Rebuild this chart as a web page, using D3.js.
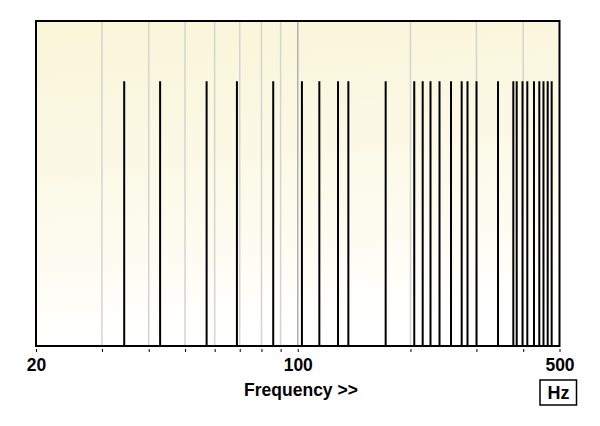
<!DOCTYPE html>
<html><head><meta charset="utf-8">
<script src="https://cdn.jsdelivr.net/npm/d3@7"></script>
<style>
html,body{margin:0;padding:0;background:#fff;}
svg{display:block;}
text{font-family:Arial,"Liberation Sans",sans-serif;font-weight:bold;fill:#000;}
</style></head>
<body>
<script>
// Partial frequencies (Hz)
const frequencies = [34.4, 42.9, 57.1, 68.8, 86.0, 102.6, 114.2, 128.1, 136.5, 171.7,
  204.7, 215.6, 226.2, 239.1, 256.6, 274.0, 284.0, 300.2, 342.6, 376.4,
  384.3, 398.3, 410.2, 427.4, 441.6, 453.1, 465.0, 476.5];
// Relative amplitude of each partial
const amplitudes = frequencies.map(() => 0.815);
const gridValues = [30, 40, 50, 60, 70, 80, 90, 100, 200, 300, 400];
const tickValues = [20, 30, 40, 50, 60, 70, 80, 90, 100, 200, 300, 400, 500];
const tickLabels = {20: "20", 100: "100", 500: "500"};
const xDomain = [20, 500];
const yDomain = [0, 1];

const W = 600, H = 426;
const m = {left: 36, right: 40.5, top: 21, bottom: 80};
const svg = d3.select("body").append("svg").attr("width", W).attr("height", H);

const x = d3.scaleLog().domain(xDomain).range([m.left, W - m.right]);
const y = d3.scaleLinear().domain(yDomain).range([H - m.bottom, m.top]);

const defs = svg.append("defs");
const grad = defs.append("linearGradient").attr("id", "bg")
  .attr("x1", 0).attr("y1", 0).attr("x2", 0.15).attr("y2", 1);
grad.append("stop").attr("offset", "0%").attr("stop-color", "#f9f5d8");
grad.append("stop").attr("offset", "55%").attr("stop-color", "#fcfae9");
grad.append("stop").attr("offset", "100%").attr("stop-color", "#ffffff");

const x0 = x.range()[0], x1 = x.range()[1], yT = y.range()[1], yB = y.range()[0];

svg.append("rect").attr("x", x0).attr("y", yT).attr("width", x1 - x0).attr("height", yB - yT)
  .attr("fill", "url(#bg)");

// grid
svg.append("g").selectAll("line").data(gridValues).join("line")
  .attr("x1", d => x(d)).attr("x2", d => x(d))
  .attr("y1", yT).attr("y2", yB)
  .attr("stroke", d => d === 100 ? "#b0b0b0" : "#d4d4d0")
  .attr("stroke-width", 1.5);

// partial lines
svg.append("g").selectAll("line").data(frequencies).join("line")
  .attr("x1", d => x(d)).attr("x2", d => x(d))
  .attr("y1", (d, i) => y(amplitudes[i])).attr("y2", yB)
  .attr("stroke", "#000").attr("stroke-width", 2);

// frame
svg.append("rect").attr("x", x0).attr("y", yT).attr("width", x1 - x0).attr("height", yB - yT)
  .attr("fill", "none").attr("stroke", "#000").attr("stroke-width", 2);

// axis
const axis = d3.axisBottom(x).tickValues(tickValues)
  .tickFormat(d => tickLabels[d] || "").tickSize(3).tickPadding(7);
const ag = svg.append("g").attr("transform", `translate(0,${yB + 3})`).call(axis);
ag.select(".domain").remove();
ag.selectAll(".tick line").attr("stroke", "#000").attr("stroke-width", 1);
ag.selectAll(".tick text").attr("font-size", 17.5).attr("font-family", "Arial, 'Liberation Sans', sans-serif")
  .attr("font-weight", "bold").attr("fill", "#000");

svg.append("text").attr("x", 301).attr("y", 395.5).attr("text-anchor", "middle")
  .attr("font-size", 17.5).text("Frequency >>");

svg.append("rect").attr("x", 540).attr("y", 380).attr("width", 36.5).attr("height", 25)
  .attr("fill", "#fff").attr("stroke", "#000").attr("stroke-width", 1.5);
svg.append("text").attr("x", 558.5).attr("y", 399).attr("text-anchor", "middle")
  .attr("font-size", 18).text("Hz");
</script>
</body></html>
